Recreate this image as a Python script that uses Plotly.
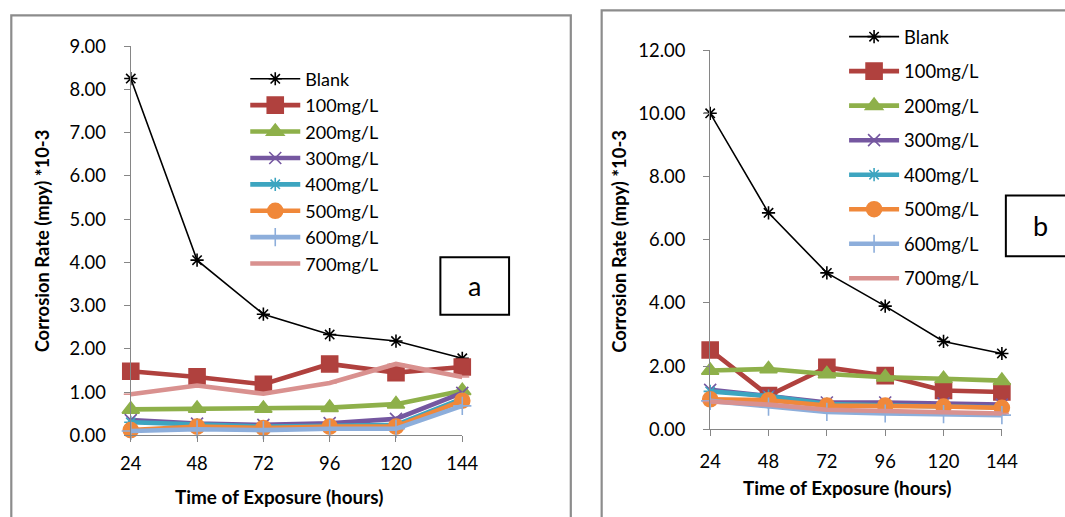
import plotly.graph_objects as go

hours = [24, 48, 72, 96, 120, 144]
series_names = ["Blank", "100mg/L", "200mg/L", "300mg/L", "400mg/L", "500mg/L", "600mg/L", "700mg/L"]

# Panel a
a_blank = [8.25, 4.05, 2.80, 2.33, 2.18, 1.78]
a_100 = [1.48, 1.35, 1.18, 1.65, 1.45, 1.58]
a_200 = [0.60, 0.62, 0.62, 0.64, 0.72, 1.03]
a_300 = [0.35, 0.27, 0.24, 0.28, 0.38, 0.98]
a_400 = [0.30, 0.25, 0.20, 0.22, 0.24, 0.85]
a_500 = [0.12, 0.20, 0.17, 0.20, 0.20, 0.80]
a_600 = [0.10, 0.14, 0.12, 0.15, 0.15, 0.68]
a_700 = [0.95, 1.15, 0.96, 1.21, 1.65, 1.35]

# Panel b
b_blank = [10.00, 6.85, 4.95, 3.90, 2.78, 2.40]
b_100 = [2.51, 1.07, 1.96, 1.70, 1.23, 1.18]
b_200 = [1.86, 1.91, 1.75, 1.65, 1.60, 1.54]
b_300 = [1.25, 1.05, 0.85, 0.85, 0.82, 0.78]
b_400 = [1.20, 1.05, 0.80, 0.75, 0.72, 0.70]
b_500 = [0.95, 0.92, 0.75, 0.75, 0.72, 0.68]
b_600 = [0.90, 0.72, 0.55, 0.50, 0.48, 0.45]
b_700 = [0.88, 0.78, 0.62, 0.58, 0.52, 0.50]

a_y_ticks = [0, 1, 2, 3, 4, 5, 6, 7, 8, 9]
b_y_ticks = [0, 2, 4, 6, 8, 10, 12]

colors = ["#000000", "#B0413E", "#8EB04A", "#7557A0", "#3DA5C0", "#F0883A", "#8DAEDB", "#D9918F"]
symbols = ["asterisk-open", "square", "triangle-up", "x-thin-open", "asterisk-open", "circle",
           "cross-thin-open", "line-ew-open"]
msizes = [11, 16, 15, 12, 11, 15, 13, 10]
lwidths = [1.6, 4.6, 4.6, 4.6, 4.6, 4.6, 4.6, 4.6]

W, H = 1065, 517
FONT = "Lato"

# The page is photographed with the default page margin, which shrinks and
# shifts the figure slightly; positions below are given in target-picture
# pixels and converted to figure fractions.
SX, SY = 0.979, 0.962
OX, OY = 7.7, 9.7


def px_x(p):
    return ((p - OX) / SX) / W


def px_y(p):
    return 1 - ((p - OY) / SY) / H


fig = go.Figure()


def add_panel(data, xa, ya, legend):
    for i, (name, vals) in enumerate(zip(series_names, data)):
        fig.add_trace(go.Scatter(
            x=hours, y=vals, name=name, mode="lines+markers",
            line=dict(color=colors[i], width=lwidths[i]),
            marker=dict(symbol=symbols[i], size=msizes[i], color=colors[i],
                        line=dict(color=colors[i], width=1.6)),
            xaxis=xa, yaxis=ya, legend=legend, legendgroup=legend + name,
            cliponaxis=False,
        ))


add_panel([a_blank, a_100, a_200, a_300, a_400, a_500, a_600, a_700], "x", "y", "legend")
add_panel([b_blank, b_100, b_200, b_300, b_400, b_500, b_600, b_700], "x2", "y2", "legend2")

axis_common = dict(showgrid=False, zeroline=False, showline=True, linecolor="#868686", linewidth=1.3,
                   ticks="outside", ticklen=6, tickcolor="#868686", tickwidth=1.3,
                   tickfont=dict(family=FONT, size=18.4, color="#000000"))

fig.update_layout(
    width=W, height=H, margin=dict(l=0, r=0, t=0, b=0),
    paper_bgcolor="white", plot_bgcolor="white",
    font=dict(family=FONT, color="#000000"),
    xaxis=dict(domain=[px_x(128), px_x(461)], range=[24, 144], tickvals=hours,
               ticklabelstandoff=5, anchor="y", **axis_common),
    yaxis=dict(domain=[px_y(435), px_y(44)], range=[0, 9], tickvals=a_y_ticks, tickformat=".2f",
               ticklabelstandoff=14, anchor="x", **axis_common),
    xaxis2=dict(domain=[px_x(710), px_x(1003)], range=[24, 144], tickvals=hours,
                ticklabelstandoff=9, anchor="y2", **axis_common),
    yaxis2=dict(domain=[px_y(429), px_y(48)], range=[0, 12], tickvals=b_y_ticks, tickformat=".2f",
                ticklabelstandoff=14, anchor="x2", **axis_common),
    legend=dict(x=px_x(243), y=px_y(58.5), xanchor="left", yanchor="top",
                font=dict(family=FONT, size=18), bgcolor="rgba(0,0,0,0)",
                tracegroupgap=0, itemwidth=50),
    legend2=dict(x=px_x(844.5), y=px_y(15.9), xanchor="left", yanchor="top",
                 font=dict(family=FONT, size=18.4), bgcolor="rgba(0,0,0,0)",
                 tracegroupgap=7.6, itemwidth=50),
    showlegend=True,
)

# Panel borders
fig.add_shape(type="rect", xref="paper", yref="paper",
              x0=px_x(8), x1=px_x(570), y0=px_y(540), y1=px_y(13),
              line=dict(color="#8C8C8C", width=2.2), fillcolor="rgba(0,0,0,0)", layer="below")
fig.add_shape(type="rect", xref="paper", yref="paper",
              x0=px_x(601), x1=px_x(1100), y0=px_y(540), y1=px_y(8),
              line=dict(color="#8C8C8C", width=2.2), fillcolor="rgba(0,0,0,0)", layer="below")

# Label boxes
fig.add_shape(type="rect", xref="paper", yref="paper",
              x0=px_x(439), x1=px_x(508), y0=px_y(314), y1=px_y(256),
              line=dict(color="#000000", width=2), fillcolor="white")
fig.add_shape(type="rect", xref="paper", yref="paper",
              x0=px_x(1007), x1=px_x(1100), y0=px_y(255), y1=px_y(194),
              line=dict(color="#000000", width=2), fillcolor="white")

annotations = [
    dict(text="a", x=px_x(473), y=px_y(285), font=dict(size=27)),
    dict(text="b", x=px_x(1042), y=px_y(224), font=dict(size=27)),
    dict(text="<b>Time of Exposure (hours)</b>", x=px_x(277), y=px_y(497), font=dict(size=18.9)),
    dict(text="<b>Time of Exposure (hours)</b>", x=px_x(847), y=px_y(487), font=dict(size=18.9)),
    dict(text="<b>Corrosion Rate (mpy) *10-3</b>", x=px_x(39), y=px_y(240), font=dict(size=18.4), textangle=-90),
    dict(text="<b>Corrosion Rate (mpy) *10-3</b>", x=px_x(619), y=px_y(240), font=dict(size=18.4), textangle=-90),
]
for an in annotations:
    an.update(xref="paper", yref="paper", showarrow=False, xanchor="center", yanchor="middle")
    an["font"].update(family=FONT, color="#000000")
    fig.add_annotation(**an)

fig.write_html("out.html")
